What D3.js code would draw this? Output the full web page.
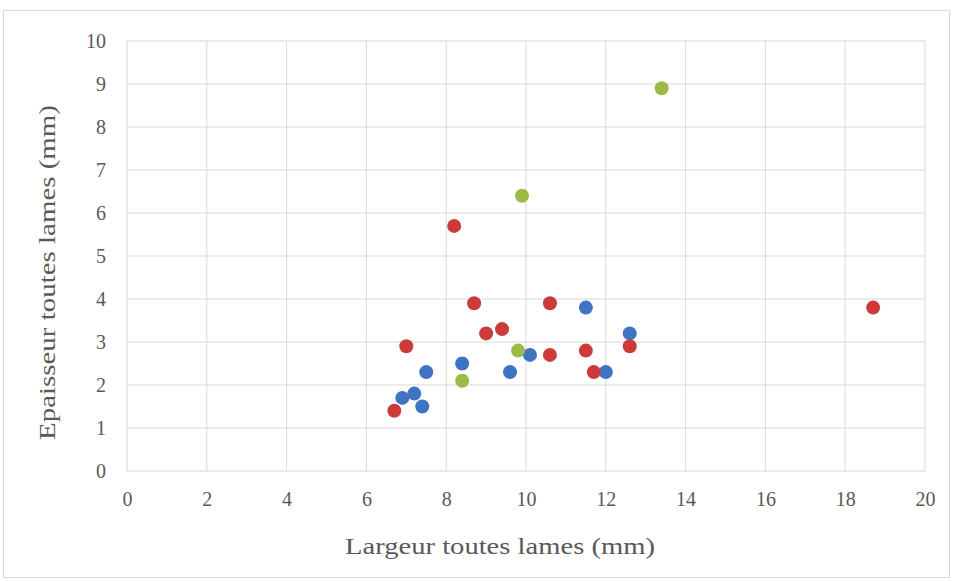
<!DOCTYPE html>
<html><head><meta charset="utf-8">
<script src="https://cdn.jsdelivr.net/npm/d3@7"></script>
<style>body{margin:0;background:#fff}svg{display:block}</style>
</head><body><svg id="c" width="957" height="581"></svg>
<script>
const xTicks = [0,2,4,6,8,10,12,14,16,18,20];
const yTicks = [0,1,2,3,4,5,6,7,8,9,10];
const blueX = [6.9,7.2,7.4,7.5,8.4,9.6,10.1,11.5,12.0,12.6];
const blueY = [1.7,1.8,1.5,2.3,2.5,2.3,2.7,3.8,2.3,3.2];
const redX = [6.7,7.0,8.2,8.7,9.0,9.4,10.6,10.6,11.5,11.7,12.6,18.7];
const redY = [1.4,2.9,5.7,3.9,3.2,3.3,3.9,2.7,2.8,2.3,2.9,3.8];
const greenX = [8.4,9.8,9.9,13.4];
const greenY = [2.1,2.8,6.4,8.9];
const xTitle = "Largeur toutes lames (mm)";
const yTitle = "Epaisseur toutes lames (mm)";

const svg = d3.select("#c");
const L=127,R=925,T=41,B=471;
const x = d3.scaleLinear().domain([0,20]).range([L,R]);
const y = d3.scaleLinear().domain([0,10]).range([B,T]);
const font = "'Liberation Serif', serif";

svg.append("rect").attr("x",3.5).attr("y",10.5).attr("width",946).attr("height",567)
  .attr("fill","#fff").attr("stroke","#d9d9d9");

const g = svg.append("g");
g.selectAll(".vg").data(xTicks).join("line")
  .attr("x1",d=>x(d)).attr("x2",d=>x(d)).attr("y1",T).attr("y2",B)
  .attr("stroke","#d9d9d9").attr("stroke-width",1);
g.selectAll(".hg").data(yTicks).join("line")
  .attr("x1",L).attr("x2",R).attr("y1",d=>y(d)).attr("y2",d=>y(d))
  .attr("stroke","#d9d9d9").attr("stroke-width",1);

const xa = svg.append("g").attr("transform",`translate(0,${B})`)
  .call(d3.axisBottom(x).tickValues(xTicks).tickSize(0).tickPadding(21));
xa.select(".domain").remove();
xa.selectAll("text").attr("font-family",font).attr("font-size",20).attr("fill","#595959");

const ya = svg.append("g").attr("transform",`translate(${L},0)`)
  .call(d3.axisLeft(y).tickValues(yTicks).tickSize(0).tickPadding(21));
ya.select(".domain").remove();
ya.selectAll("text").attr("font-family",font).attr("font-size",20).attr("fill","#595959");

svg.append("text").attr("x",345).attr("y",554)
  .attr("textLength",310).attr("lengthAdjust","spacingAndGlyphs")
  .attr("font-family",font).attr("font-size",23).attr("fill","#595959").text(xTitle);
svg.append("text").attr("transform",`translate(55,440) rotate(-90)`)
  .attr("textLength",335).attr("lengthAdjust","spacingAndGlyphs")
  .attr("font-family",font).attr("font-size",23).attr("fill","#595959").text(yTitle);

function series(xs,ys,color){
  svg.append("g").selectAll("circle").data(xs.map((v,i)=>[v,ys[i]])).join("circle")
    .attr("cx",d=>x(d[0])).attr("cy",d=>y(d[1])).attr("r",7)
    .attr("fill",color);
}
series(blueX,blueY,"#3f74c4");
series(redX,redY,"#cc3a3a");
series(greenX,greenY,"#9bbb45");
</script></body></html>
